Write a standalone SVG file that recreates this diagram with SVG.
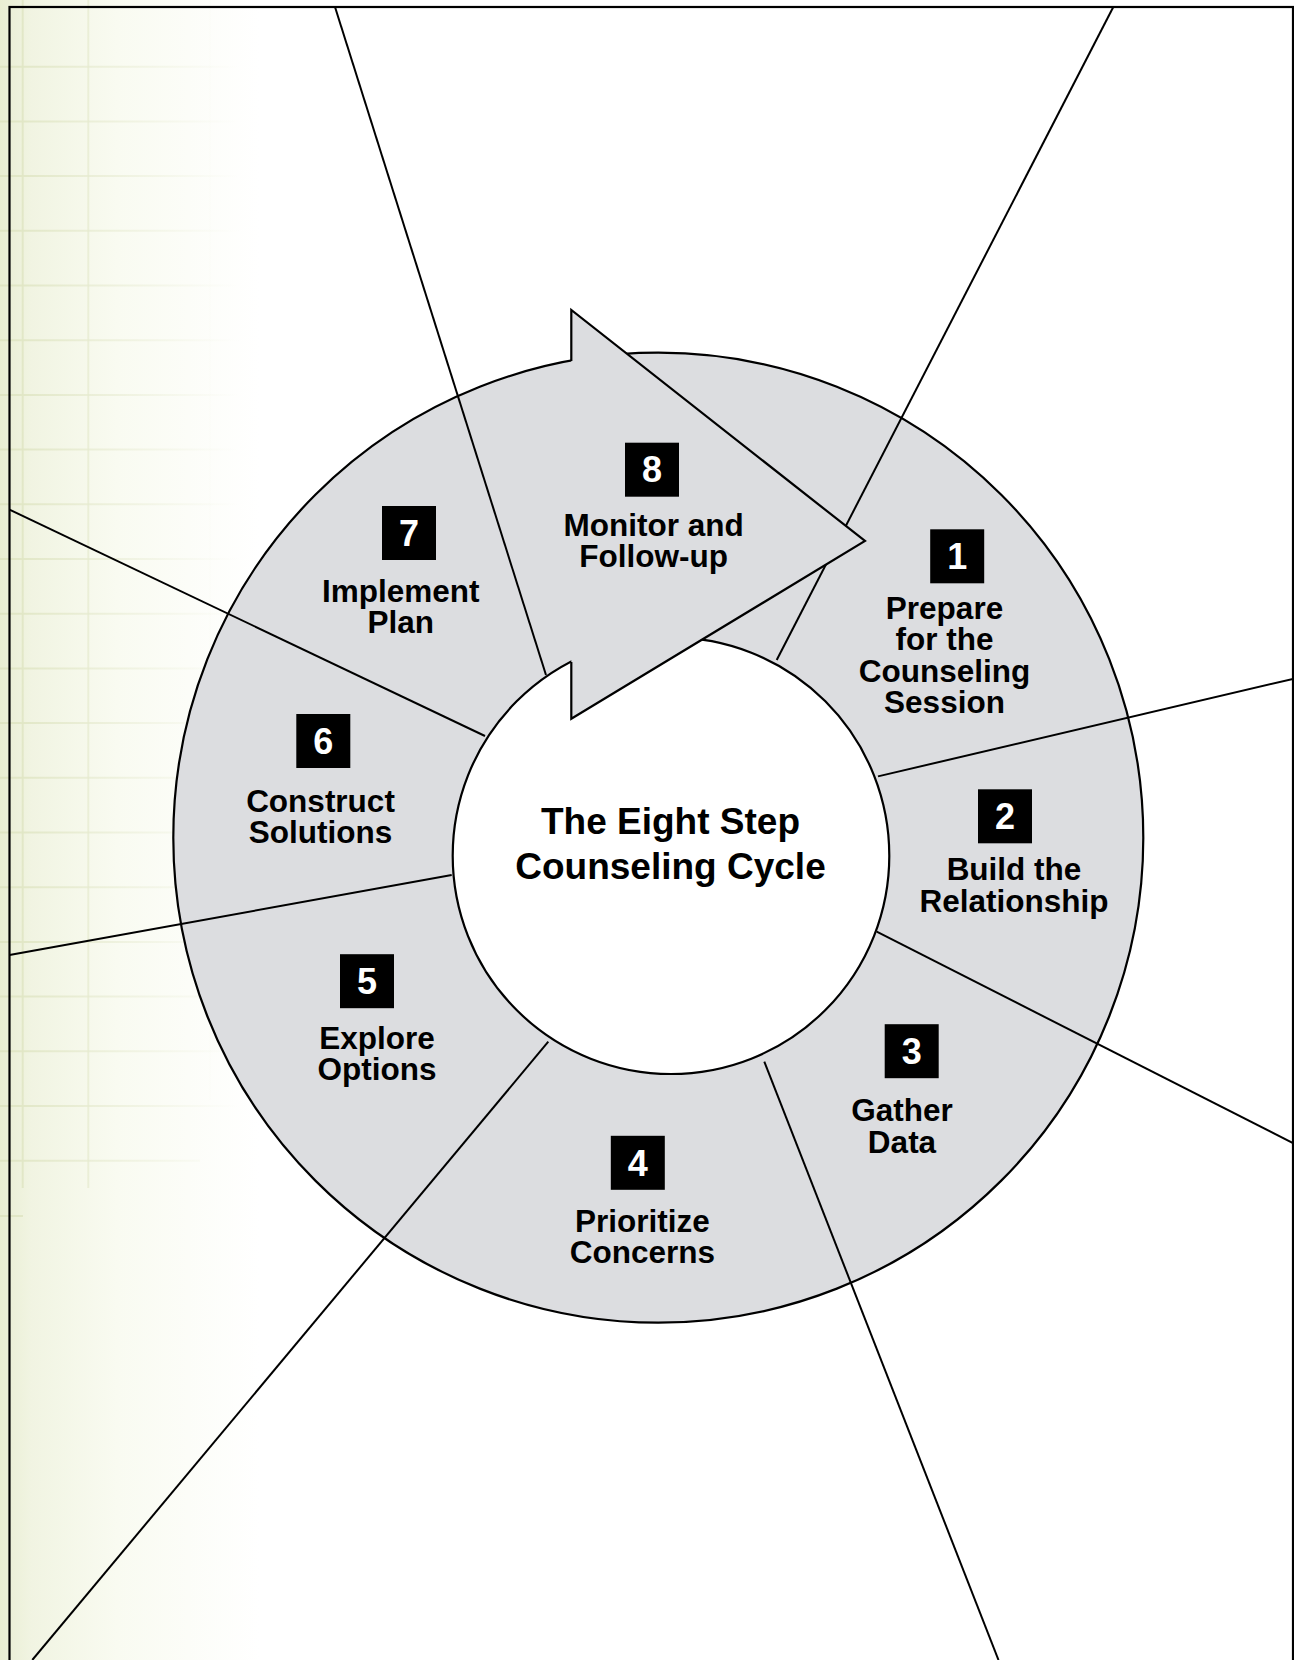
<svg xmlns="http://www.w3.org/2000/svg" width="1294" height="1660" viewBox="0 0 1294 1660">
<style>
.lbl{font-family:"Liberation Sans",Arial,sans-serif;font-weight:bold;font-size:31.5px;fill:#000;text-anchor:middle}
.num{font-family:"Liberation Sans",Arial,sans-serif;font-weight:bold;font-size:36px;fill:#fff;text-anchor:middle}
.title{font-family:"Liberation Sans",Arial,sans-serif;font-weight:bold;font-size:37px;fill:#000;text-anchor:middle}
.box{fill:#000}
.ray{stroke:#000;stroke-width:2;fill:none}
.grid{stroke:url(#gridFade);stroke-width:2}
</style>
<defs>
<linearGradient id="bgFade" x1="0" y1="0" x2="260" y2="0" gradientUnits="userSpaceOnUse">
<stop offset="0" stop-color="#e9eed2"/>
<stop offset="0.12" stop-color="#f1f4e2"/>
<stop offset="0.45" stop-color="#f9fbf1"/>
<stop offset="1" stop-color="#ffffff"/>
</linearGradient>
<linearGradient id="gridFade" x1="0" y1="0" x2="240" y2="0" gradientUnits="userSpaceOnUse">
<stop offset="0" stop-color="#dfe5c2" stop-opacity="1"/>
<stop offset="0.5" stop-color="#e8ecd3" stop-opacity="0.6"/>
<stop offset="1" stop-color="#eef1de" stop-opacity="0"/>
</linearGradient>
</defs>

<g id="background">
<rect x="0" y="0" width="1294" height="1660" fill="#fff"/>
<rect x="0" y="0" width="260" height="1660" fill="url(#bgFade)"/>
<g class="grid">
<line x1="0" y1="66.7" x2="240" y2="66.7"/>
<line x1="0" y1="121.4" x2="240" y2="121.4"/>
<line x1="0" y1="176.1" x2="240" y2="176.1"/>
<line x1="0" y1="230.8" x2="240" y2="230.8"/>
<line x1="0" y1="285.5" x2="240" y2="285.5"/>
<line x1="0" y1="340.2" x2="240" y2="340.2"/>
<line x1="0" y1="394.9" x2="240" y2="394.9"/>
<line x1="0" y1="449.6" x2="240" y2="449.6"/>
<line x1="0" y1="504.3" x2="240" y2="504.3"/>
<line x1="0" y1="559" x2="240" y2="559"/>
<line x1="0" y1="613.7" x2="240" y2="613.7"/>
<line x1="0" y1="668.4" x2="240" y2="668.4"/>
<line x1="0" y1="723.1" x2="240" y2="723.1"/>
<line x1="0" y1="777.8" x2="240" y2="777.8"/>
<line x1="0" y1="832.5" x2="240" y2="832.5"/>
<line x1="0" y1="887.2" x2="240" y2="887.2"/>
<line x1="0" y1="941.9" x2="240" y2="941.9"/>
<line x1="0" y1="996.6" x2="240" y2="996.6"/>
<line x1="0" y1="1051.3" x2="240" y2="1051.3"/>
<line x1="0" y1="1106" x2="240" y2="1106"/>
<line x1="0" y1="1160.7" x2="200" y2="1160.7"/>
<line x1="0" y1="1216" x2="23" y2="1216"/>
<line x1="22.7" y1="0" x2="22.7" y2="1188"/>
<line x1="88.3" y1="0" x2="88.3" y2="1188"/>
<line x1="210" y1="0" x2="210" y2="1100" stroke-opacity="0.3"/>
</g>
<rect x="9.5" y="7" width="1283.5" height="1680" fill="none" stroke="#000" stroke-width="2.2"/>
</g>

<g id="ring">
<circle cx="658.3" cy="837.7" r="485" fill="#dcdde0" stroke="#000" stroke-width="2.2"/>
<circle cx="671" cy="855.7" r="218.3" fill="#fff" stroke="#000" stroke-width="2.2"/>
</g>

<g id="connectors">
<line class="ray" x1="776.7" y1="660" x2="1113.3" y2="7"/>
<line class="ray" x1="546" y1="675" x2="335" y2="7"/>
<line class="ray" x1="485" y1="736" x2="9.5" y2="509.7"/>
<line class="ray" x1="451.7" y1="875" x2="9.5" y2="955"/>
<line class="ray" x1="548.3" y1="1041.7" x2="32.3" y2="1660"/>
<line class="ray" x1="764.3" y1="1061.7" x2="998.5" y2="1660"/>
<line class="ray" x1="876.7" y1="931.7" x2="1294" y2="1143.6"/>
<line class="ray" x1="878" y1="776.4" x2="1294" y2="678.6"/>
</g>

<g id="arrow">
<path d="M571.3,361 L571.3,310 L865,541 L571.3,718.8 L571.3,662" fill="#dcdde0" stroke="#000" stroke-width="2.2" stroke-linejoin="miter"/>
</g>

<g id="center-title">
<text class="title" x="670.5" y="834.3">The Eight Step</text>
<text class="title" x="670.5" y="879.3">Counseling Cycle</text>
</g>

<g id="step1">
<rect class="box" x="930.2" y="529.3" width="54" height="54"/>
<text class="num" x="957.2" y="569">1</text>
<text class="lbl" x="944.5" y="618.5">Prepare</text>
<text class="lbl" x="944.5" y="650">for the</text>
<text class="lbl" x="944.5" y="681.5">Counseling</text>
<text class="lbl" x="944.5" y="713">Session</text>
</g>
<g id="step2">
<rect class="box" x="978" y="789.3" width="54" height="54"/>
<text class="num" x="1005" y="829">2</text>
<text class="lbl" x="1014" y="880">Build the</text>
<text class="lbl" x="1014" y="911.7">Relationship</text>
</g>
<g id="step3">
<rect class="box" x="884.7" y="1024.2" width="54" height="54"/>
<text class="num" x="911.7" y="1064">3</text>
<text class="lbl" x="902" y="1121">Gather</text>
<text class="lbl" x="902" y="1153">Data</text>
</g>
<g id="step4">
<rect class="box" x="610.8" y="1135.8" width="54" height="54"/>
<text class="num" x="637.8" y="1175.5">4</text>
<text class="lbl" x="642.5" y="1231.7">Prioritize</text>
<text class="lbl" x="642.5" y="1263.3">Concerns</text>
</g>
<g id="step5">
<rect class="box" x="340" y="954.2" width="54" height="54"/>
<text class="num" x="367" y="994">5</text>
<text class="lbl" x="377" y="1049.3">Explore</text>
<text class="lbl" x="377" y="1080">Options</text>
</g>
<g id="step6">
<rect class="box" x="296.3" y="714" width="54" height="54"/>
<text class="num" x="323.3" y="753.7">6</text>
<text class="lbl" x="320.5" y="811.7">Construct</text>
<text class="lbl" x="320.5" y="843.3">Solutions</text>
</g>
<g id="step7">
<rect class="box" x="382" y="506" width="54" height="54"/>
<text class="num" x="409" y="545.7">7</text>
<text class="lbl" x="400.8" y="602.3">Implement</text>
<text class="lbl" x="400.8" y="633.3">Plan</text>
</g>
<g id="step8">
<rect class="box" x="625" y="442.7" width="54" height="54"/>
<text class="num" x="652" y="482">8</text>
<text class="lbl" x="653.7" y="536">Monitor and</text>
<text class="lbl" x="653.7" y="567.3">Follow-up</text>
</g>
</svg>
